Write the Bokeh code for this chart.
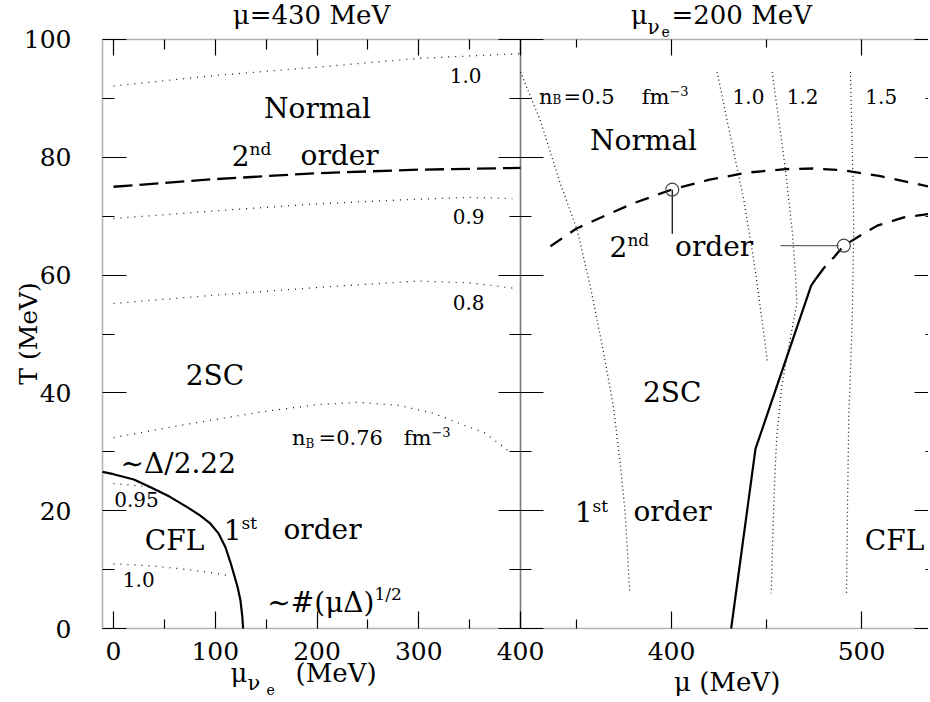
import math
from bokeh.plotting import figure
from bokeh.models import Range1d, FixedTicker, LinearAxis, Label, CustomJSTickFormatter, BoxAnnotation
from bokeh.embed import file_html
from bokeh.resources import INLINE

FONT = "DejaVu Serif"

# ---------------- left panel (mu = 430 MeV): x = mu_nu_e (MeV), y = T (MeV)
L_nb100_x = [0, 100, 200, 300, 400]
L_nb100_T = [92.1, 93.9, 95.3, 96.8, 97.6]
L_2nd_x = [0, 100, 200, 300, 400]
L_2nd_T = [75.0, 76.3, 77.3, 77.9, 78.2]
L_nb090_x = [0, 100, 200, 300, 350, 392]
L_nb090_T = [69.6, 70.9, 72.1, 72.9, 73.2, 73.0]
L_nb080_x = [0, 100, 200, 300, 350, 392]
L_nb080_T = [55.2, 56.6, 57.9, 59.0, 58.7, 57.8]
L_nb076_x = [0, 50, 100, 150, 200, 240, 280, 315, 345, 365, 388]
L_nb076_T = [32.4, 34.0, 35.5, 36.9, 38.0, 38.4, 37.9, 36.5, 34.5, 33.2, 30.2]
L_1st_x = [-10.8, 0, 20, 36.4, 55, 72.4, 85, 95.3, 103, 110, 115, 118.2, 122, 124.8, 126.6, 127.4]
L_1st_T = [26.6, 26.2, 25.3, 24.0, 22.4, 20.6, 19.2, 17.8, 16.2, 13.8, 11.2, 9.3, 7.0, 4.75, 2.0, 0.0]
L_nb095_x = [0, 20, 41]
L_nb095_T = [24.6, 24.3, 23.9]
L_nb100b_x = [0, 40, 73, 100, 115]
L_nb100b_T = [11.0, 10.6, 10.0, 9.4, 8.9]

# ---------------- right panel (mu_nu_e = 200 MeV): x = mu (MeV), y = T (MeV)
R_nb05_mu = [320.5, 331, 341, 350.4, 357.4, 364.4, 369.5, 373, 375.5, 377, 378]
R_nb05_T = [94.5, 86.2, 76, 67.6, 57.9, 46.6, 37.5, 28, 20, 12, 6]
R_nb10_mu = [424.0, 429.3, 434, 438.1, 443.3, 447.7, 450.4]
R_nb10_T = [94.5, 86.2, 79, 72.7, 62.5, 52.3, 45.5]
R_nb12_mu = [453, 456.5, 460, 463.5, 465.1, 466, 463.3, 460.7, 458, 455.4, 454.5, 453.3, 452.5]
R_nb12_T = [94.5, 86.2, 77.8, 67.6, 60.8, 55.2, 50.6, 46.1, 41, 32.5, 26.8, 16, 6]
R_nb15_mu = [494.2, 494.8, 495.6, 495.9, 495.5, 495.1, 494.0, 493.3, 492.6, 492.1]
R_nb15_T = [94.5, 86, 75, 67.6, 60, 52.3, 42, 35.9, 20, 6]
R_2ndA_mu = [336.3, 350, 365, 380, 400, 420, 440, 460, 475, 490, 510, 536]
R_2ndA_T = [64.9, 67.9, 70.1, 72.2, 74.5, 76.2, 77.4, 78.0, 78.1, 77.8, 76.8, 75.0]
R_2ndB_mu = [476.5, 480.2, 485.4, 490.7, 497.7, 508.3, 522.3, 536]
R_2ndB_T = [59.6, 61.2, 63.0, 65.0, 66.4, 68.4, 69.8, 70.4]
R_1st_mu = [431.4, 444.2, 473.5, 476.5]
R_1st_T = [0.0, 30.5, 58.2, 59.6]
R_mark_mu = [400.4, 490.7]
R_mark_T = [74.5, 65.0]
R_connV_mu = [400.4, 400.4]
R_connV_T = [74.5, 67.0]
R_connH_mu = [457.4, 488.0]
R_connH_T = [65.0, 65.0]

# ---------------- panel limits and ticks
L_lim = (-10.8, 400)
R_lim = (320.53, 539.5)
T_lim = (0, 100)
L_x_ticks = [0, 100, 200, 300, 400]
L_x_minor = [50, 150, 250, 350]
R_x_ticks = [400, 500]
R_x_minor = [350, 450]
T_ticks = [0, 20, 40, 60, 80, 100]
T_minor = [10, 30, 50, 70, 90]

p = figure(width=928, height=700,
           x_range=Range1d(-111.06, 800.98), y_range=Range1d(-12.22, 106.62),
           output_backend="svg", toolbar_location=None,
           x_axis_location=None, y_axis_location=None,
           min_border_left=0, min_border_right=0, min_border_top=0, min_border_bottom=0)
p.extra_x_ranges = {"right": Range1d(46.84, 535.26)}
p.grid.visible = False
p.outline_line_color = None


def add_axis(side, ticks, minor, loc, tin, mtin, labels, standoff=0, xr="default"):
    ax = LinearAxis(ticker=FixedTicker(ticks=ticks, minor_ticks=minor),
                    fixed_location=loc, x_range_name=xr)
    ax.axis_line_color = None
    ax.major_tick_in = tin
    ax.major_tick_out = 0
    ax.minor_tick_in = mtin
    ax.minor_tick_out = 0
    ax.major_tick_line_color = "black"
    ax.minor_tick_line_color = "black"
    ax.major_tick_line_width = 1.2
    ax.minor_tick_line_width = 1.2
    if labels:
        ax.major_label_text_font = FONT
        ax.major_label_text_font_size = "25px"
        ax.major_label_text_color = "black"
        ax.major_label_standoff = standoff
    else:
        ax.formatter = CustomJSTickFormatter(code="return ''")
        ax.major_label_standoff = 0
    p.add_layout(ax, side)


def txt(x, y, s, size, align="left", angle=0.0, xr="default"):
    p.add_layout(Label(x=x, y=y, text=s, text_font=FONT, text_font_size=f"{size}px",
                       text_align=align, text_baseline="middle", angle=angle,
                       text_color="black", x_range_name=xr))


# frames
p.add_layout(BoxAnnotation(left=L_lim[0], right=L_lim[1], bottom=T_lim[0], top=T_lim[1],
                           fill_color=None, fill_alpha=0, line_color="black", line_width=1.6))
p.add_layout(BoxAnnotation(left=R_lim[0], right=R_lim[1], bottom=T_lim[0], top=T_lim[1],
                           fill_color=None, fill_alpha=0, line_color="black", line_width=1.6,
                           x_range_name="right"))

# axes: left panel
add_axis("below", L_x_ticks, L_x_minor, T_lim[0], 17, 9, True, standoff=13)
add_axis("above", L_x_ticks, L_x_minor, T_lim[1], 16, 10, False)
add_axis("left", T_ticks, T_minor, L_lim[0], 24, 12, True, standoff=31)
add_axis("right", T_ticks, T_minor, L_lim[1], 22, 11, False)
# axes: right panel
add_axis("below", R_x_ticks, R_x_minor, T_lim[0], 17, 9, True, standoff=13, xr="right")
add_axis("above", R_x_ticks, R_x_minor, T_lim[1], 16, 8, False, xr="right")
add_axis("left", T_ticks, T_minor, R_lim[0], 23, 11, False, xr="right")
add_axis("right", T_ticks, T_minor, R_lim[1], 22, 11, False, xr="right")

DOT = "#1a1a1a"
# ---- left panel curves
for xs, ys in [(L_nb100_x, L_nb100_T), (L_nb090_x, L_nb090_T), (L_nb080_x, L_nb080_T),
               (L_nb076_x, L_nb076_T), (L_nb095_x, L_nb095_T), (L_nb100b_x, L_nb100b_T)]:
    p.line(xs, ys, line_color=DOT, line_width=1.3, line_dash="1 6")
p.line(L_2nd_x, L_2nd_T, line_color="black", line_width=2.3, line_dash="19 7")
p.line(L_1st_x, L_1st_T, line_color="black", line_width=2.2)

# ---- right panel curves
for xs, ys in [(R_nb05_mu, R_nb05_T), (R_nb10_mu, R_nb10_T),
               (R_nb12_mu, R_nb12_T), (R_nb15_mu, R_nb15_T)]:
    p.line(xs, ys, line_color=DOT, line_width=1.3, line_dash="1 3", x_range_name="right")
p.line(R_2ndA_mu, R_2ndA_T, line_color="black", line_width=2.3, line_dash="14 10", x_range_name="right")
p.line(R_2ndB_mu, R_2ndB_T, line_color="black", line_width=2.3, line_dash="14 10", x_range_name="right")
p.line(R_1st_mu, R_1st_T, line_color="black", line_width=2.2, x_range_name="right")
p.line(R_connV_mu, R_connV_T, line_color="black", line_width=1.2, x_range_name="right")
p.line(R_connH_mu, R_connH_T, line_color="#666666", line_width=1.2, x_range_name="right")
p.scatter(R_mark_mu, R_mark_T, marker="circle", size=13, fill_color=None,
          line_color="#444444", line_width=1.2, x_range_name="right")

# ---- left panel texts
txt(194.6, 104.1, "μ=430 MeV", 26, "center")
txt(-84.0, 50.1, "T (MeV)", 25, "center", math.pi / 2)
txt(131.7, -7.6, "μ", 26, "right")
txt(131.7, -9.3, "ν", 21)
txt(150.4, -10.4, "e", 14)
txt(178.9, -7.6, "(MeV)", 26)

txt(200.5, 88.3, "Normal", 28, "center")
txt(133.7, 80.3, "2", 28, "right")
txt(133.7, 81.4, "nd", 17)
txt(183.8, 80.3, "order", 28)
txt(346, 93.9, "1.0", 20, "center")
txt(349, 70.0, "0.9", 20, "center")
txt(349, 55.3, "0.8", 20, "center")
txt(99.7, 43.0, "2SC", 28, "center")
txt(188.7, 32.3, "n", 21, "right")
txt(188.7, 31.4, "B", 12)
txt(201.5, 32.3, "=0.76", 21)
txt(312.5, 32.3, "fm", 21, "right")
txt(312.5, 33.3, "−3", 13)
txt(6.9, 28.0, "∼Δ/2.22", 28)
txt(22.6, 21.9, "0.95", 20, "center")
txt(60, 14.9, "CFL", 28, "center")
txt(125.8, 16.8, "1", 28, "right")
txt(125.8, 17.9, "st", 17)
txt(167, 16.8, "order", 28)
txt(24.8, 8.3, "1.0", 20, "center")
txt(256.5, 4.4, "∼#(μΔ)", 28, "right")
txt(256.5, 5.8, "1/2", 17)

# ---- right panel texts
R = "right"
txt(387.4, 104.1, "μ", 26, "right", xr=R)
txt(387.4, 102.2, "ν", 20, xr=R)
txt(394.7, 101.3, "e", 14, xr=R)
txt(400.0, 104.1, "=200 MeV", 26, xr=R)
txt(429.3, -9.0, "μ (MeV)", 26, "center", xr=R)

txt(337.4, 90.3, "n", 21, "right", xr=R)
txt(337.4, 89.7, "B", 12, xr=R)
txt(343.2, 90.3, "=0.5", 21, xr=R)
txt(398.9, 90.3, "fm", 21, "right", xr=R)
txt(398.9, 91.2, "−3", 13, xr=R)
txt(440.5, 90.3, "1.0", 20, "center", xr=R)
txt(469.0, 90.3, "1.2", 20, "center", xr=R)
txt(510.4, 90.3, "1.5", 20, "center", xr=R)
txt(385.3, 82.9, "Normal", 28, "center", xr=R)
txt(376.8, 64.9, "2", 28, "right", xr=R)
txt(376.8, 65.9, "nd", 17, xr=R)
txt(401.9, 64.9, "order", 28, xr=R)
txt(400.4, 40.1, "2SC", 28, "center", xr=R)
txt(358.4, 19.8, "1", 28, "right", xr=R)
txt(358.4, 20.8, "st", 17, xr=R)
txt(380.0, 19.8, "order", 28, xr=R)
txt(517.4, 15.0, "CFL", 28, "center", xr=R)

open("out.html", "w").write(file_html(p, INLINE))
